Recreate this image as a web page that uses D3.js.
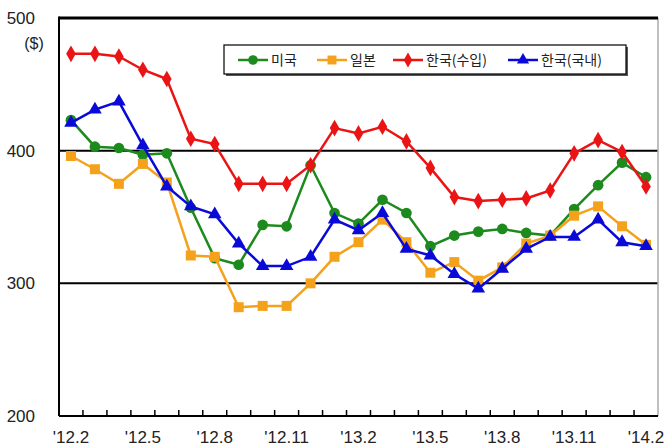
<!DOCTYPE html>
<html>
<head>
<meta charset="utf-8">
<script src="https://cdn.jsdelivr.net/npm/d3@7"></script>
<style>
  body { margin: 0; background: #fff; }
  svg { display: block; }
  text { font-family: "Liberation Sans", Arial, sans-serif; fill: #222; }
  .leg text { font-family: "Noto Sans CJK KR", sans-serif; }
</style>
</head>
<body>
<svg width="664" height="446"></svg>
<script>
// months '12.2 .. '14.2
const months = ["12.2","12.3","12.4","12.5","12.6","12.7","12.8","12.9","12.10","12.11","12.12",
  "13.1","13.2","13.3","13.4","13.5","13.6","13.7","13.8","13.9","13.10","13.11","13.12","14.1","14.2"];
const tickLabels = ["12.2","12.5","12.8","12.11","13.2","13.5","13.8","13.11","14.2"];
const yTicks = [200, 300, 400, 500];

const usa    = [423, 403, 402, 397, 398, 357, 319, 314, 344, 343, 389, 353, 345, 363, 353, 328, 336, 339, 341, 338, 336, 356, 374, 391, 380];
const japan  = [396, 386, 375, 390, 376, 321, 320, 282, 283, 283, 300, 320, 331, 348, 331, 308, 316, 302, 312, 330, 336, 351, 358, 343, 329];
const krImp  = [473, 473, 471, 461, 454, 409, 405, 375, 375, 375, 389, 417, 413, 418, 407, 387, 365, 362, 363, 364, 370, 398, 408, 399, 373];
const krDom  = [421, 431, 437, 404, 373, 358, 352, 330, 313, 313, 320, 348, 340, 353, 326, 321, 307, 296, 311, 326, 335, 335, 348, 331, 328];

const series = [
  { name: "미국",       values: usa,   color: "#1d8a1d", sym: d3.symbolCircle,   size: 90 },
  { name: "일본",       values: japan, color: "#f4a21c", sym: d3.symbolSquare,   size: 100 },
  { name: "한국(수입)", values: krImp, color: "#ea1414", sym: d3.symbolDiamond,  size: 80 },
  { name: "한국(국내)", values: krDom, color: "#0a0ad8", sym: d3.symbolTriangle, size: 80 }
];

const svg = d3.select("svg");
const pl = 59, pr = 658, pt = 18, pb = 416;

const x = d3.scaleBand().domain(months).range([pl, pr]);
const y = d3.scaleLinear().domain([200, 500]).range([pb, pt]);
const cx = m => x(m) + x.bandwidth() / 2;

// grid lines 300 / 400
svg.selectAll("line.grid")
  .data([300, 400])
  .enter().append("line")
  .attr("x1", pl).attr("x2", pr)
  .attr("y1", d => y(d)).attr("y2", d => y(d))
  .style("stroke", "#000").style("stroke-width", 2);

// frame
svg.append("line").attr("x1", pr).attr("x2", pr).attr("y1", pt).attr("y2", pb)
  .style("stroke", "#aaa").style("stroke-width", 1.5);
svg.append("line").attr("x1", pl).attr("x2", pr).attr("y1", pt).attr("y2", pt)
  .style("stroke", "#000").style("stroke-width", 3);
svg.append("line").attr("x1", pl).attr("x2", pl).attr("y1", pt - 1.5).attr("y2", pb)
  .style("stroke", "#000").style("stroke-width", 2);

// bottom axis with inner ticks at band edges
const xAxis = svg.append("g").attr("transform", `translate(0,${pb})`);
xAxis.append("line").attr("x1", pl).attr("x2", pr).style("stroke", "#000").style("stroke-width", 2);
xAxis.selectAll("line.tk")
  .data(months.slice(1))
  .enter().append("line")
  .attr("x1", d => x(d)).attr("x2", d => x(d))
  .attr("y1", 0).attr("y2", -6)
  .style("stroke", "#000").style("stroke-width", 1.5);

svg.selectAll("text.xl")
  .data(tickLabels)
  .enter().append("text")
  .attr("x", d => cx(d))
  .attr("y", 443)
  .attr("text-anchor", "middle")
  .style("font-size", "17px")
  .text(d => "'" + d);

svg.selectAll("text.yl")
  .data(yTicks)
  .enter().append("text")
  .attr("x", 35)
  .attr("y", d => y(d) + 6)
  .attr("text-anchor", "end")
  .style("font-size", "17px")
  .text(d => d);

svg.append("text").attr("x", 34).attr("y", 49).attr("text-anchor", "middle")
  .style("font-size", "16px").text("($)");

// lines + markers
const line = d3.line().x((d, i) => cx(months[i])).y(d => y(d));

series.forEach(s => {
  svg.append("path")
    .datum(s.values)
    .attr("d", line)
    .style("fill", "none")
    .style("stroke", s.color)
    .style("stroke-width", 2.5);

  svg.selectAll(null)
    .data(s.values)
    .enter().append("path")
    .attr("d", d3.symbol().type(s.sym).size(s.size))
    .attr("transform", (d, i) => `translate(${cx(months[i])},${y(d)})`)
    .style("fill", s.color);
});

// legend
const leg = svg.append("g").attr("class", "leg");
leg.append("rect").attr("x", 226).attr("y", 47).attr("width", 402).attr("height", 29).style("fill", "#555");
leg.append("rect").attr("x", 224).attr("y", 45).attr("width", 402).attr("height", 29)
  .style("fill", "#fff").style("stroke", "#000").style("stroke-width", 1.2);

const legX = [238, 317, 393, 508];
series.forEach((s, i) => {
  const g = leg.append("g").attr("transform", `translate(${legX[i]},60)`);
  g.append("line").attr("x1", 0).attr("x2", 30).style("stroke", s.color).style("stroke-width", 2.5);
  g.append("path").attr("d", d3.symbol().type(s.sym).size(s.size * 0.8))
    .attr("transform", "translate(15,0)").style("fill", s.color);
  g.append("text").attr("x", 33).attr("y", 5).style("font-size", "14px").text(s.name);
});
</script>
</body>
</html>
